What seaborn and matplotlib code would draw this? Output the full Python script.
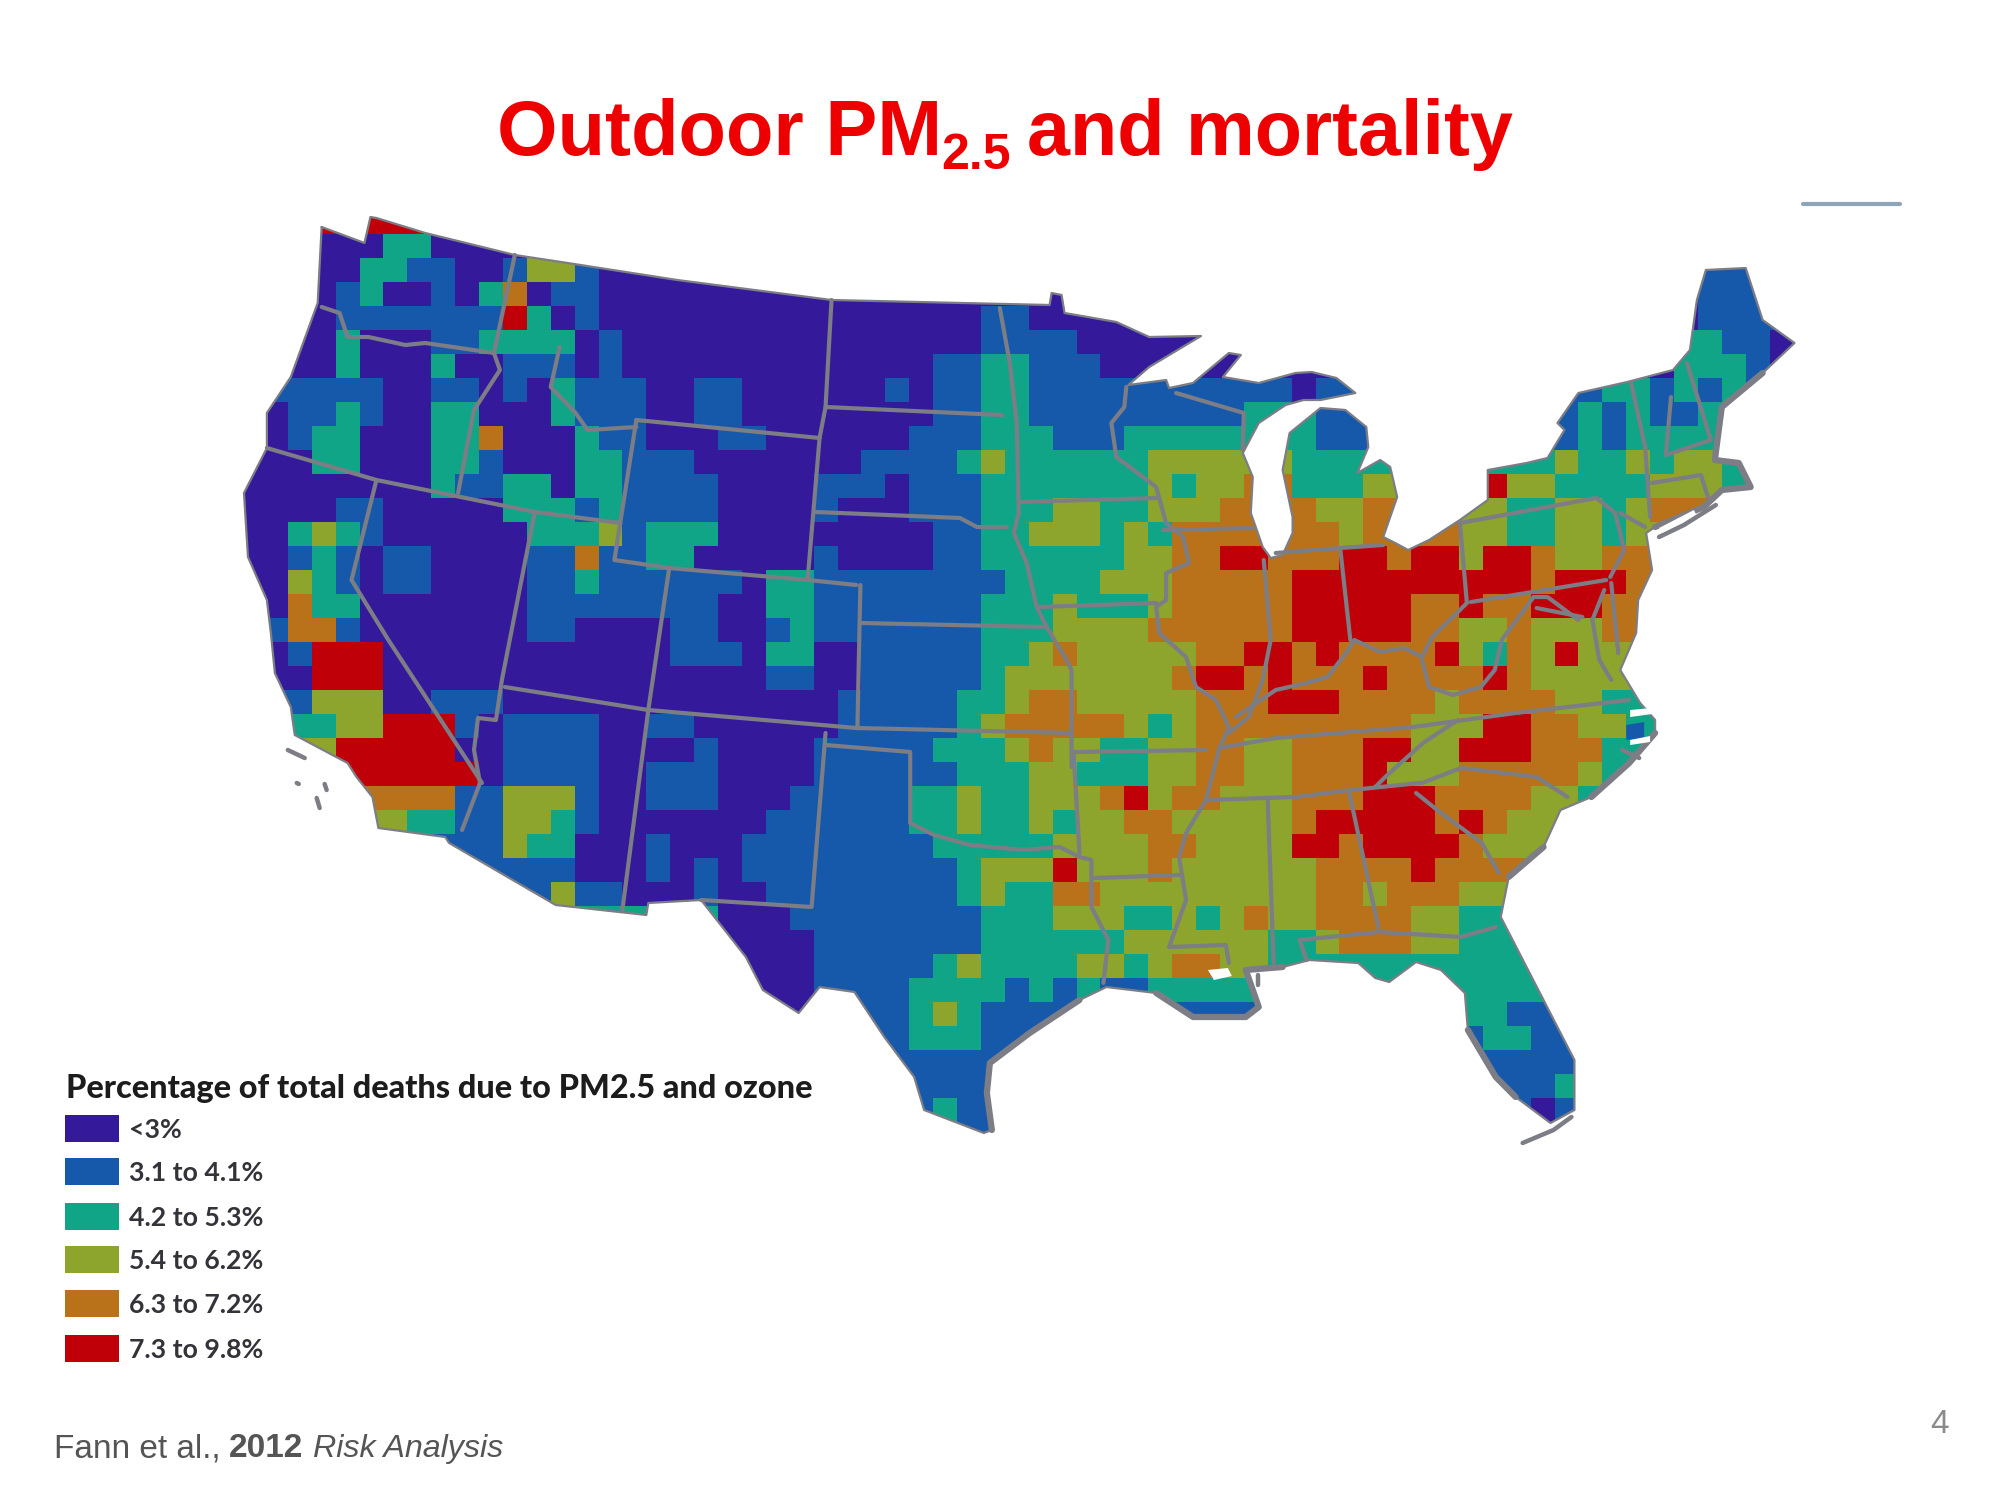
#!/usr/bin/env python3
"""Outdoor PM2.5 and mortality slide: gridded map of the lower 48 states drawn with seaborn."""

import numpy as np
import pandas as pd
import matplotlib
matplotlib.use('Agg')
import matplotlib.pyplot as plt
from matplotlib.colors import ListedColormap
from matplotlib.lines import Line2D
from matplotlib.patches import Polygon, Rectangle
import seaborn as sns

# legend classes, letters a-f in the grid below
CLASS_KEYS = 'abcdef'
CLASS_LABELS = ['<3%', '3.1 to 4.1%', '4.2 to 5.3%', '5.4 to 6.2%', '6.3 to 7.2%', '7.3 to 9.8%']
CLASS_COLORS = ['#35199b', '#1659ab', '#11a588', '#8da52c', '#b9721a', '#c00008']
LEGEND_TITLE = 'Percentage of total deaths due to PM2.5 and ozone'

# class per grid cell, one string per row, '.' = no reading (filled, then clipped by the outline)
GRID_ROWS = [
    '......ffaa',
    '...aaaccaa aaaaaaaaaa aaaa',
    '...aaccbba abddbaaaaa aaaaaaaaaa .......... .......... .......... .bbb',
    '...abcaaba ceabbaaaaa aaaaaaaaaa aaaaa..... .......... .......... .bbb',
    '..aabbbbbb bfcabaaaaa aaaaaaaaaa abbaaaaa.. .......... .......... .bbbb',
    '..aacaaabb ccccabaaaa aaaaaaaaaa abbbbaaaaa .......... .......... ccbbaa',
    '..aacaaaca abbbabaaaa aaaaaaaaab bccbbbaaa. .......... .......... cccba',
    '..bbbbaabb abacbbbaab baaaaaabab bccbbbbbbb bbbbab.... .......ccb cbcb',
    '.abbcbaacc aaacbbbaab baaaaaaaab bccbbbbbbb bbcc.bb... ......cbcb bc',
    '.abccaaacc eaaacbbaaa bbaaaaaabb bcccbbbccc ccc.cbb... .....bcbcc cc',
    '.aaccaaacc baaaccbbba aaaaaabbbb cdccccccdd ddd.ccc... .....dccdc ddc',
    'aaaaaaaacb bccaccbbbb aaaabbbabb bcccccccdc dde.cccd.. ..fddccccd ddc',
    'aaaabbaaaa acccbcbbbb aaaabaaabb bcccddccdd dee.eddee. .ddccddcde',
    'aacdcbaaaa aacccdbccc aaaaaaaaab bccdddcdce eeeeeede.. eddccddcdd',
    'aabcbabbaa aabbebbcca aaaabaaaab bccccccdde effeeeffef fdffeddeee',
    'aadcbabbaa aabbcbbbbb baccbbbbbb bbccccddde eeeeffffff ffffefffee',
    'aaeccaaaaa aabbbbbbbb aaccbbbbbb bcccdcccde eeeefffffe efeefffee.',
    'abeebaaaaa aabbaaaabb aabcbbbbbb bcccddddee eeeefffffe eddeddde..',
    'aabfffaaaa aaaaaaaabb baccaabbbb bccdeddddd eeffefeeee fdcedfd...',
    '.aafffaaaa aaaaaaaaaa aabbaabbbb bcddddddde ffefeeefee eefeddd...',
    '..bdddaabb baaaaaaaaa aaaaabbbbb ccdeeddddd eeefffeeee deeeeddcc.',
    '..ccddfffb abbbbaabba aaaaabbbbb cdeeeeedcd eeeeeeeeed ddffeeddc.',
    '...dfffffa abbbbaaaab aaaabbbbbc ccdeddccdd eeddeeeffd dfffeeec..',
    '....ffffff abbbbaabbb aaaabbbbbb cccddcccdd eeddeeefdd deeeeedc..',
    '.....eeeeb bdddbaabbb aaabbbbbcc dccdddefde edddeeefff eeeeddc...',
    '.....ddccb bddcbaaaaa aabbbbbbcc dccdcddeed ddddefffff efedd.....',
    '........bb bdccaaabaa abbbbbbbbc ccccddddee ddddffefff feddd.....',
    '.........b bbbbaaabab abbbbbbbbb cdddfddded dddddeeeef eee.......',
    '.......... bbbdbbaaab aabbbbbbbb cdcceedddd dddddeedee edd.......',
    '.......... .........c aaabbbbbbb bcccdddccd cdeddeeeed dcc.......',
    '.......... .......... aaaabbbbbb bccccccddd dddccdeeed dccc......',
    '.......... .......... .aaabbbbbc dccccddcde eddccccccc cccc......',
    '.......... .......... ..aabbbbcc ccbcbcbbcc cc........ .cccc.....',
    '.......... .......... ..aabbbbcd cbbbb..... .......... .ccbb.....',
    '.......... .......... .......bcc cbb....... .......... ..ccbb....',
    '.......... .......... .......bbb bb........ .......... ..bbbb....',
    '.......... .......... ........bb bb........ .......... ...bbcc...',
    '.......... .......... ........bc bb........ .......... ....abb...',
    '.......... .......... .........b bb........ .......... .....bb...',
]

# map geometry in image pixels
COAST_OUTLINE = [
    (322, 227), (365, 243), (371, 217), (377, 218), (426, 233), (516, 255), (569, 263), (679, 280),
    (834, 300), (1053, 305), (1055, 293), (1065, 295), (1068, 313), (1120, 322), (1153, 337),
    (1205, 336), (1153, 367), (1132, 385), (1170, 380), (1173, 388), (1197, 383), (1233, 353),
    (1245, 355), (1227, 377), (1263, 383), (1300, 373), (1316, 372), (1341, 378), (1360, 393),
    (1325, 400), (1308, 400), (1290, 405), (1263, 423), (1247, 453), (1257, 477), (1255, 513),
    (1267, 547), (1275, 558), (1287, 555), (1297, 533), (1297, 517), (1287, 470), (1294, 433),
    (1325, 408), (1350, 410), (1371, 427), (1373, 447), (1362, 473), (1385, 460), (1395, 467),
    (1402, 497), (1388, 537), (1400, 543), (1413, 550), (1434, 540), (1465, 520), (1493, 500),
    (1493, 470), (1532, 463), (1553, 458), (1570, 430), (1563, 423), (1584, 393), (1633, 382),
    (1679, 370), (1696, 350), (1703, 300), (1712, 270), (1752, 268), (1769, 320), (1801, 343),
    (1769, 373), (1728, 407), (1721, 460), (1745, 463), (1757, 487), (1728, 490), (1710, 507),
    (1661, 527), (1652, 533), (1658, 570), (1644, 600), (1642, 633), (1626, 670), (1646, 703),
    (1661, 720), (1661, 733), (1635, 763), (1597, 797), (1566, 810), (1549, 847), (1514, 877),
    (1506, 917), (1549, 1000), (1580, 1060), (1580, 1110), (1556, 1123), (1521, 1097), (1501, 1077),
    (1473, 1030), (1470, 993), (1446, 970), (1421, 962), (1394, 982), (1380, 978), (1363, 963),
    (1314, 960), (1287, 967), (1250, 970), (1263, 1007), (1250, 1017), (1197, 1017), (1160, 993),
    (1110, 987), (1083, 1000), (1033, 1033), (993, 1063), (990, 1093), (995, 1130), (987, 1133),
    (927, 1110), (917, 1077), (887, 1037), (857, 992), (822, 987), (801, 1013), (765, 990),
    (748, 957), (703, 900), (650, 903), (648, 915), (557, 905), (450, 843), (446, 837), (379, 828),
    (373, 797), (357, 777), (348, 763), (295, 735), (291, 707), (275, 673), (271, 633), (267, 600),
    (248, 557), (244, 493), (267, 448), (267, 413), (291, 377), (318, 303),
]
STATE_LINES = [
    [(322, 307), (340, 313), (348, 337), (369, 337), (406, 345), (426, 343), (495, 353)],
    [(516, 255), (495, 353), (501, 370), (475, 410), (459, 493)],
    [(267, 448), (377, 480), (536, 512), (622, 523)],
    [(561, 347), (552, 387), (577, 413), (589, 430), (638, 427)],
    [(638, 420), (616, 560), (671, 568), (810, 580), (859, 585)],
    [(638, 420), (822, 438)],
    [(834, 300), (828, 407), (822, 438), (810, 580)],
    [(828, 407), (1005, 415)],
    [(818, 512), (963, 518), (980, 527), (1010, 527)],
    [(863, 585), (860, 727)],
    [(863, 623), (1050, 627)],
    [(1003, 308), (1013, 363), (1020, 423), (1022, 513), (1017, 533), (1030, 563), (1040, 607),
     (1050, 627), (1070, 660), (1075, 670), (1075, 767)],
    [(1023, 502), (1160, 498)],
    [(1042, 607), (1160, 603)],
    [(1130, 387), (1128, 407), (1115, 423), (1120, 457), (1160, 487), (1170, 523), (1187, 537),
     (1193, 563), (1170, 573), (1170, 600), (1160, 607), (1163, 633), (1190, 657), (1200, 687),
     (1220, 700), (1233, 727), (1223, 750), (1210, 800), (1190, 833), (1183, 857), (1190, 900),
     (1173, 947), (1230, 945), (1233, 963)],
    [(1167, 530), (1257, 528)],
    [(1180, 393), (1248, 413), (1247, 450)],
    [(1268, 560), (1275, 640), (1267, 680), (1253, 717), (1233, 733)],
    [(1240, 717), (1280, 690), (1311, 683), (1332, 677), (1353, 650), (1359, 640), (1385, 652),
     (1409, 648), (1427, 657), (1437, 637), (1465, 610), (1472, 603)],
    [(1345, 550), (1355, 640)],
    [(1280, 553), (1345, 548), (1388, 545)],
    [(1465, 523), (1472, 603)],
    [(1476, 602), (1612, 580)],
    [(1465, 523), (1602, 498), (1621, 513), (1630, 550), (1616, 577)],
    [(1626, 513), (1651, 527)],
    [(1637, 383), (1651, 447), (1656, 517)],
    [(1677, 397), (1672, 453)],
    [(1693, 363), (1717, 440)],
    [(1672, 455), (1717, 440)],
    [(1658, 483), (1707, 475), (1714, 497)],
    [(1539, 597), (1507, 640), (1500, 670), (1486, 687), (1458, 695), (1434, 687), (1427, 660)],
    [(1539, 597), (1553, 597), (1584, 620)],
    [(1542, 608), (1588, 617)],
    [(1610, 590), (1598, 620), (1605, 660), (1617, 680)],
    [(1617, 583), (1624, 653)],
    [(1223, 748), (1280, 738), (1418, 727), (1521, 713), (1635, 700)],
    [(1210, 800), (1300, 797), (1356, 790), (1425, 783)],
    [(1463, 720), (1428, 743), (1390, 777), (1380, 787)],
    [(1421, 793), (1446, 813), (1487, 843), (1504, 873)],
    [(1427, 783), (1466, 768), (1501, 772), (1542, 777), (1573, 797)],
    [(1272, 800), (1278, 963)],
    [(1354, 793), (1383, 927)],
    [(1304, 940), (1383, 932), (1466, 937), (1501, 927)],
    [(1304, 940), (1311, 960)],
    [(1077, 752), (1210, 750)],
    [(1077, 752), (1083, 853)],
    [(913, 823), (937, 835), (973, 845), (1027, 850), (1063, 847), (1083, 857), (1095, 860),
     (1095, 907), (1112, 940), (1107, 983)],
    [(1097, 878), (1183, 875)],
    [(671, 568), (650, 710), (859, 728), (1075, 733)],
    [(650, 710), (624, 910)],
    [(506, 687), (650, 710)],
    [(536, 512), (503, 680), (497, 720), (479, 718), (475, 750), (481, 783), (463, 830)],
    [(377, 480), (352, 580), (389, 640), (483, 783)],
    [(828, 733), (814, 907), (703, 900)],
    [(828, 745), (913, 752), (913, 823)],
]
EXTRA_COAST_LINES = [
    [(1577, 1117), (1559, 1130), (1528, 1143)],          # keys
    [(1665, 537), (1690, 525), (1722, 505)],             # long island
    [(288, 750), (305, 758)],                            # channel islands
    [(297, 783), (299, 784)],
    [(325, 784), (327, 790)],
    [(317, 798), (320, 808)],
    [(1262, 975), (1262, 985)],                          # chandeleur
    [(1628, 750), (1645, 758)],                          # pamlico
]
# stretches of coast where the gray line runs heavier
HEAVY_COAST = [
    [(1287, 967), (1250, 970), (1263, 1007), (1250, 1017), (1197, 1017), (1160, 993)],
    [(1083, 1000), (1033, 1033), (993, 1063), (990, 1093), (995, 1130)],
    [(1473, 1030), (1501, 1077), (1521, 1097)],
    [(1549, 847), (1514, 877)],
    [(1661, 733), (1635, 763), (1597, 797)],
    [(1769, 373), (1728, 407), (1721, 460), (1745, 463), (1757, 487), (1728, 490), (1710, 507), (1661, 527)],
]
WHITE_WATER = [
    [(1212, 970), (1232, 968), (1236, 976), (1218, 980)],      # pontchartrain
    [(1636, 710), (1658, 708), (1658, 714), (1636, 717)],      # pamlico sound
    [(1636, 740), (1656, 736), (1656, 742), (1636, 745)],
    [(1665, 528), (1700, 510), (1702, 514), (1668, 533)],      # long island sound
]
# small patch of the 3.1 to 4.1% class inside the sounds
SOUND_PATCH = [(1632, 725), (1650, 722), (1650, 738), (1632, 740)]

# grid placement in image pixels
CELL = 24
CELL_W = 23.9
MAP_LEFT, MAP_TOP = 240, 210
FIG_W, FIG_H = 2000, 1500
GRAY = '#7c7d85'


def to_cells(points):
    pts = np.array(points, dtype=float)
    return (pts[:, 0] - MAP_LEFT) / CELL, (pts[:, 1] - MAP_TOP) / CELL


def fx(x):
    return x / FIG_W


def fy(y):
    return 1 - y / FIG_H


sns.set_theme(style='white')
plt.rcParams['font.family'] = ['Liberation Sans', 'DejaVu Sans']

fig = plt.figure(figsize=(20, 15), dpi=100, facecolor='white')

# build the class grid
n_cols = 66
rows = [r.replace(' ', '').ljust(n_cols, '.') for r in GRID_ROWS]
grid = pd.DataFrame([[CLASS_KEYS.find(ch) if ch != '.' else np.nan for ch in r] for r in rows], dtype=float)
grid = grid.ffill(axis=1).bfill(axis=1)

n_rows = len(rows)
ax = fig.add_axes([fx(MAP_LEFT), fy(MAP_TOP + n_rows * CELL), n_cols * CELL_W / FIG_W, n_rows * CELL / FIG_H])
sns.heatmap(grid, ax=ax, cmap=ListedColormap(CLASS_COLORS), vmin=-0.5, vmax=5.5, cbar=False,
            xticklabels=False, yticklabels=False, linewidths=0, rasterized=True)
ax.set_axis_off()

# clip the blocks to the coast
ox, oy = to_cells(COAST_OUTLINE)
clip = Polygon(np.column_stack([ox, oy]), closed=True, transform=ax.transData, facecolor='none', edgecolor='none')
ax.add_patch(clip)
ax.collections[0].set_clip_path(clip)

sx, sy = to_cells(SOUND_PATCH)
ax.fill(sx, sy, color=CLASS_COLORS[1], lw=0, zorder=3)

ax.plot(np.append(ox, ox[0]), np.append(oy, oy[0]), color=GRAY, lw=1.6, solid_joinstyle='round', clip_on=False)
for line in STATE_LINES:
    lx, ly = to_cells(line)
    ax.plot(lx, ly, color=GRAY, lw=3, solid_joinstyle='round', solid_capstyle='round', clip_on=False)
for line in HEAVY_COAST:
    lx, ly = to_cells(line)
    ax.plot(lx, ly, color=GRAY, lw=4.5, solid_joinstyle='round', solid_capstyle='round', clip_on=False)
for line in EXTRA_COAST_LINES:
    lx, ly = to_cells(line)
    ax.plot(lx, ly, color=GRAY, lw=3.2, solid_capstyle='round', clip_on=False)
for shape in WHITE_WATER:
    wx, wy = to_cells(shape)
    ax.fill(wx, wy, color='white', lw=0, zorder=5)

# title in three pieces because of the subscript
RED = '#ee0000'
fig.text(fx(497), fy(155), 'Outdoor PM', color=RED, fontsize=56, fontweight='bold', ha='left', va='baseline')
fig.text(fx(941), fy(169), '2.5', color=RED, fontsize=36, fontweight='bold', ha='left', va='baseline')
fig.text(fx(1027), fy(155), 'and mortality', color=RED, fontsize=55.7, fontweight='bold', ha='left', va='baseline')

# short rule, top right
fig.add_artist(Line2D([fx(1803), fx(1900)], [fy(204), fy(204)], color='#8ea5b8', lw=3))

# legend
fig.text(fx(66), fy(1098), LEGEND_TITLE, family='Lato', fontweight='black', fontsize=23.3, color='#1c1c1c',
         ha='left', va='baseline')
swatch_tops = [1115, 1158, 1203, 1246, 1290, 1335]
for top, label, color in zip(swatch_tops, CLASS_LABELS, CLASS_COLORS):
    fig.add_artist(Rectangle((fx(65), fy(top + 27)), 54 / FIG_W, 27 / FIG_H, transform=fig.transFigure,
                             facecolor=color, edgecolor='none'))
    fig.text(fx(129), fy(top + 23), label, family='Lato', fontweight='bold', fontsize=19.2, color='#33333a',
             ha='left', va='baseline')

# citation and page number
CITE = '#555555'
fig.text(fx(54), fy(1457), 'Fann et al.,', color=CITE, fontsize=24, ha='left', va='baseline')
fig.text(fx(229), fy(1457), '2012', color=CITE, fontsize=24, fontweight='bold', ha='left', va='baseline')
fig.text(fx(313), fy(1457), 'Risk Analysis', color=CITE, fontsize=23.2, fontstyle='italic', ha='left', va='baseline')
fig.text(fx(1930), fy(1433), '4', color='#8a8a8a', fontsize=24, ha='left', va='baseline')

fig.savefig('out.png', dpi=100, facecolor='white')
